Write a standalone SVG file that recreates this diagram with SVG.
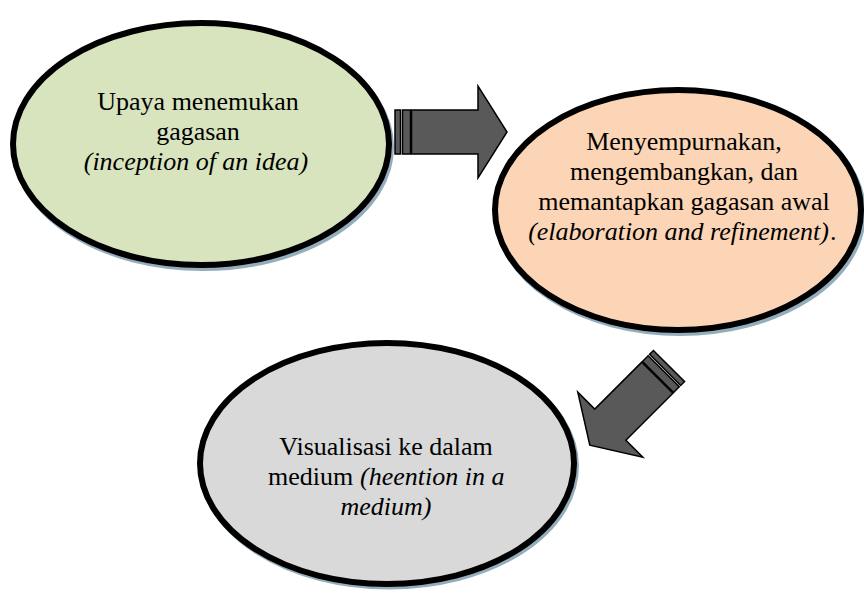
<svg xmlns="http://www.w3.org/2000/svg" width="864" height="595" viewBox="0 0 864 595" font-family="Liberation Serif">
<defs>
<g id="arrowShape" fill="#595959" stroke="#000" stroke-width="1.5">
<rect x="0" y="-22" width="5.5" height="44"/>
<rect x="7.5" y="-22" width="8" height="44"/>
<polygon points="16.5,-22 83,-22 83,-46 112,0 83,46 83,22 16.5,22"/>
</g>
</defs>
<rect width="864" height="595" fill="#fff"/>
<g id="connectors">
<use href="#arrowShape" transform="translate(395 132)"/>
<use href="#arrowShape" transform="translate(669 366) rotate(135)"/>
</g>
<g id="node1" font-family="Liberation Serif">
<ellipse cx="203" cy="147" rx="188" ry="121" fill="#93adbd" stroke="#93adbd" stroke-width="6"/>
<ellipse cx="201" cy="144" rx="188" ry="121" fill="#d7e4bd" stroke="#000" stroke-width="6"/>
<text x="198" y="110" font-size="26" style="font-family:'Liberation Serif'" text-anchor="middle">Upaya menemukan</text>
<text x="198" y="140" font-size="26" style="font-family:'Liberation Serif'" text-anchor="middle">gagasan</text>
<text x="196" y="170" font-size="26" style="font-family:'Liberation Serif'" font-style="italic" text-anchor="middle">(inception of an idea)</text>
</g>
<g id="node2" font-family="Liberation Serif">
<ellipse cx="680" cy="213" rx="183" ry="120" fill="#93adbd" stroke="#93adbd" stroke-width="6"/>
<ellipse cx="678" cy="210" rx="183" ry="120" fill="#fbd5b5" stroke="#000" stroke-width="6"/>
<text x="684" y="150" font-size="26" style="font-family:'Liberation Serif'" text-anchor="middle">Menyempurnakan,</text>
<text x="684" y="180" font-size="26" style="font-family:'Liberation Serif'" text-anchor="middle">mengembangkan, dan</text>
<text x="684" y="210" font-size="26" style="font-family:'Liberation Serif'" text-anchor="middle">memantapkan gagasan awal</text>
<text x="829" y="240" font-size="26" style="font-family:'Liberation Serif'" font-style="italic" text-anchor="end">(elaboration and refinement)</text>
<text x="830" y="240" font-size="26" style="font-family:'Liberation Serif'">.</text>
</g>
<g id="node3" font-family="Liberation Serif">
<ellipse cx="389" cy="466" rx="187" ry="120.5" fill="#93adbd" stroke="#93adbd" stroke-width="6"/>
<ellipse cx="387" cy="463.5" rx="187" ry="120.5" fill="#d9d9d9" stroke="#000" stroke-width="6"/>
<text x="386" y="455" font-size="26" style="font-family:'Liberation Serif'" text-anchor="middle">Visualisasi ke dalam</text>
<text x="268" y="485" font-size="26" style="font-family:'Liberation Serif'">medium</text>
<text x="360" y="485" font-size="26" style="font-family:'Liberation Serif'" font-style="italic">(heention in a</text>
<text x="386" y="515" font-size="26" style="font-family:'Liberation Serif'" font-style="italic" text-anchor="middle">medium)</text>
</g>
</svg>
